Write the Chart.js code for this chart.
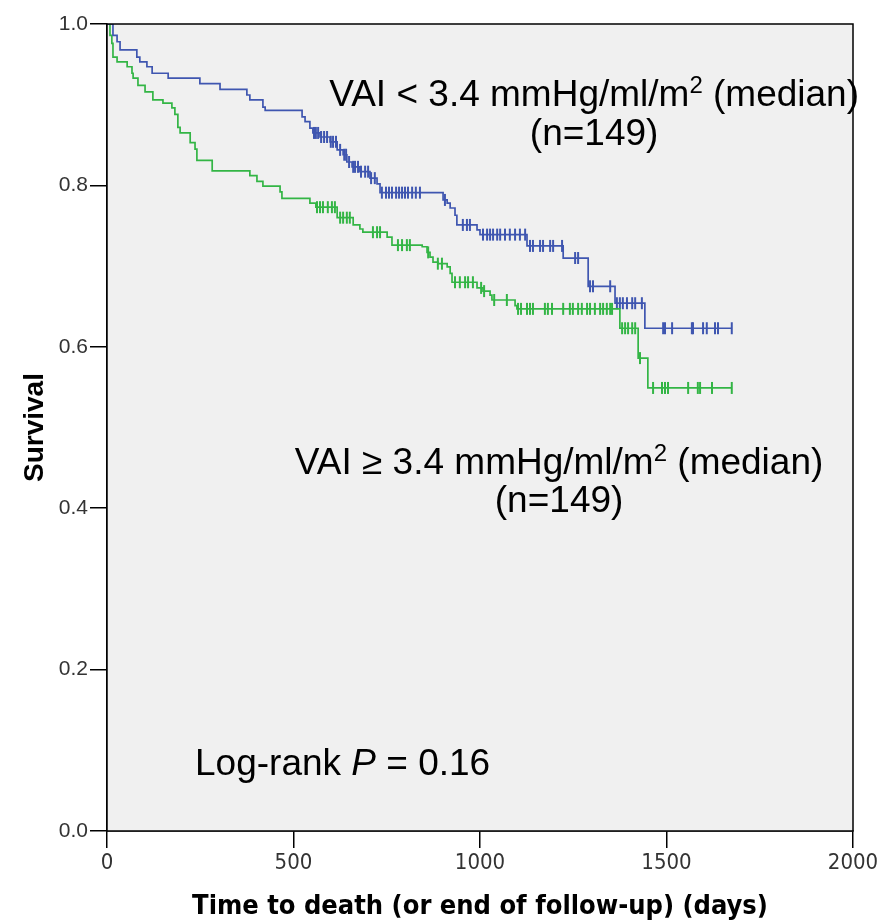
<!DOCTYPE html>
<html>
<head>
<meta charset="utf-8">
<script src="https://cdn.jsdelivr.net/npm/chart.js@4.4.1/dist/chart.umd.min.js"></script>
<style>
  html, body { margin: 0; padding: 0; background: #fff; }
  #wrap { width: 894px; height: 923px; position: relative; }
</style>
</head>
<body>
<div id="wrap"><canvas id="km"></canvas></div>
<script>
// Kaplan-Meier steps: event time (days) and survival after the event
const blueTimes = [0, 16, 27, 35, 80, 88, 107, 121, 164, 249, 303, 375, 383, 418, 424, 523, 531, 544, 552, 571, 598, 617, 633, 643, 657, 678, 705, 724, 732, 901, 912, 920, 933, 938, 992, 1000, 1126, 1223, 1290, 1362, 1442];
const blueSurv = [1.0, 0.986, 0.978, 0.968, 0.959, 0.953, 0.947, 0.939, 0.933, 0.926, 0.919, 0.912, 0.906, 0.897, 0.893, 0.885, 0.879, 0.871, 0.865, 0.860, 0.854, 0.844, 0.838, 0.829, 0.823, 0.817, 0.809, 0.802, 0.791, 0.782, 0.778, 0.772, 0.763, 0.751, 0.745, 0.739, 0.725, 0.710, 0.675, 0.654, 0.623];
const blueCensor = [555, 560, 566, 574, 582, 590, 600, 606, 614, 625, 636, 641, 649, 660, 665, 673, 681, 692, 700, 708, 718, 737, 748, 756, 764, 775, 783, 791, 799, 807, 818, 828, 839, 906, 954, 965, 973, 1008, 1019, 1027, 1035, 1046, 1054, 1067, 1080, 1094, 1107, 1121, 1134, 1142, 1161, 1169, 1188, 1196, 1220, 1255, 1263, 1295, 1303, 1349, 1367, 1375, 1383, 1394, 1408, 1416, 1434, 1491, 1496, 1515, 1568, 1571, 1598, 1608, 1630, 1638, 1675];

const greenTimes = [0, 8, 13, 16, 27, 54, 67, 70, 83, 102, 123, 150, 174, 182, 190, 196, 223, 236, 241, 282, 383, 402, 418, 464, 469, 544, 560, 617, 660, 678, 686, 751, 764, 845, 858, 866, 874, 887, 912, 920, 925, 992, 1008, 1027, 1032, 1094, 1099, 1375, 1424, 1450];
const greenSurv = [1.0, 0.986, 0.976, 0.959, 0.953, 0.947, 0.939, 0.933, 0.924, 0.916, 0.906, 0.902, 0.896, 0.888, 0.872, 0.865, 0.853, 0.845, 0.831, 0.818, 0.812, 0.805, 0.799, 0.792, 0.784, 0.778, 0.773, 0.760, 0.751, 0.746, 0.742, 0.736, 0.726, 0.724, 0.717, 0.711, 0.705, 0.703, 0.699, 0.691, 0.680, 0.673, 0.669, 0.664, 0.658, 0.651, 0.647, 0.623, 0.586, 0.549];
const greenCensor = [563, 571, 579, 592, 603, 611, 625, 633, 643, 651, 713, 724, 732, 780, 791, 804, 812, 861, 887, 898, 933, 946, 960, 968, 981, 1003, 1011, 1038, 1072, 1102, 1110, 1126, 1134, 1142, 1174, 1182, 1193, 1223, 1241, 1249, 1263, 1273, 1287, 1295, 1308, 1322, 1330, 1340, 1349, 1354, 1381, 1389, 1397, 1408, 1416, 1429, 1464, 1488, 1496, 1504, 1558, 1584, 1590, 1622, 1675];

const blueLabel = ['VAI < 3.4 mmHg/ml/m', '2', ' (median)', '(n=149)'];
const greenLabel = ['VAI \u2265 3.4 mmHg/ml/m', '2', ' (median)', '(n=149)'];
const pLabel = ['Log-rank ', 'P', ' = 0.16'];

const blue = '#3f56b0';
const green = '#33b545';

function survAt(times, surv, t) {
  let s = surv[0];
  for (let i = 0; i < times.length; i++) {
    if (times[i] <= t) s = surv[i];
  }
  return s;
}

function stepData(times, surv, end) {
  const pts = times.map((t, i) => ({ x: t, y: surv[i] }));
  pts.push({ x: end, y: surv[surv.length - 1] });
  return pts;
}

function censorData(times, surv, cens) {
  return cens.map(t => ({ x: t, y: survAt(times, surv, t) }));
}

const TXT = 37;
const SUP = 24;

// draws a line made of runs; align 'center' or 'left' at px x
function drawRuns(ctx, runs, x, baseline, align) {
  const fontOf = r => (r.italic ? 'italic ' : '') + (r.sup ? SUP : TXT) + 'px "Liberation Sans", Arial, sans-serif';
  let total = 0;
  runs.forEach(r => {
    ctx.font = fontOf(r);
    r.w = ctx.measureText(r.t).width;
    total += r.w;
  });
  let cx = align === 'center' ? x - total / 2 : x;
  runs.forEach(r => {
    ctx.font = fontOf(r);
    ctx.fillText(r.t, cx, baseline - (r.sup ? 13 : 0));
    cx += r.w;
  });
}

const plotDeco = {
  id: 'plotDeco',
  beforeDatasetsDraw(chart) {
    const { ctx, chartArea: a } = chart;
    ctx.save();
    ctx.fillStyle = '#f0f0f0';
    ctx.fillRect(a.left, a.top, a.right - a.left, a.bottom - a.top);
    ctx.restore();
  },
  afterDatasetsDraw(chart) {
    const { ctx, chartArea: a, scales } = chart;
    const xs = scales.x, ys = scales.y;
    ctx.save();
    ctx.strokeStyle = '#000';
    ctx.lineWidth = 1.5;
    ctx.strokeRect(a.left, a.top, a.right - a.left, a.bottom - a.top);

    ctx.fillStyle = '#000';
    ctx.textBaseline = 'alphabetic';
    ctx.textAlign = 'left';
    const bx = xs.getPixelForValue(1306);
    drawRuns(ctx, [{ t: blueLabel[0] }, { t: blueLabel[1], sup: true }, { t: blueLabel[2] }], bx, ys.getPixelForValue(0.898), 'center');
    drawRuns(ctx, [{ t: blueLabel[3] }], bx, ys.getPixelForValue(0.850), 'center');
    const gx = xs.getPixelForValue(1212);
    drawRuns(ctx, [{ t: greenLabel[0] }, { t: greenLabel[1], sup: true }, { t: greenLabel[2] }], gx, ys.getPixelForValue(0.442), 'center');
    drawRuns(ctx, [{ t: greenLabel[3] }], gx, ys.getPixelForValue(0.395), 'center');
    drawRuns(ctx, [{ t: pLabel[0] }, { t: pLabel[1], italic: true }, { t: pLabel[2] }], xs.getPixelForValue(236), ys.getPixelForValue(0.069), 'left');
    ctx.restore();
  },
};

const ctx = document.getElementById('km').getContext('2d');

new Chart(ctx, {
  type: 'line',
  data: {
    datasets: [
      {
        label: 'VAI < 3.4',
        data: stepData(blueTimes, blueSurv, 1675),
        stepped: true,
        borderColor: blue,
        borderWidth: 1.7,
        pointRadius: 0,
        fill: false,
      },
      {
        label: 'VAI >= 3.4',
        data: stepData(greenTimes, greenSurv, 1675),
        stepped: true,
        borderColor: green,
        borderWidth: 1.7,
        pointRadius: 0,
        fill: false,
      },
      {
        label: 'censored blue',
        data: censorData(blueTimes, blueSurv, blueCensor),
        showLine: false,
        pointStyle: 'line',
        rotation: 90,
        pointRadius: 6,
        borderColor: blue,
        borderWidth: 2,
      },
      {
        label: 'censored green',
        data: censorData(greenTimes, greenSurv, greenCensor),
        showLine: false,
        pointStyle: 'line',
        rotation: 90,
        pointRadius: 6,
        borderColor: green,
        borderWidth: 2,
      },
    ],
  },
  options: {
    responsive: true,
    maintainAspectRatio: false,
    animation: false,
    layout: { padding: { left: 0, top: 24, right: 41, bottom: 0 } },
    plugins: {
      legend: { display: false },
      tooltip: { enabled: false },
    },
    scales: {
      x: {
        type: 'linear',
        min: 0,
        max: 2000,
        afterFit: s => { s.height = 92; },
        border: { display: true, color: '#000', width: 1.5 },
        grid: { drawOnChartArea: false, tickLength: 17, color: '#000', lineWidth: 1.5 },
        ticks: {
          stepSize: 500,
          padding: 2,
          color: '#333',
          callback: v => String(v),
          font: { family: '"Liberation Sans Narrow", "DejaVu Sans Condensed", Arial, sans-serif', size: 22 },
        },
        title: {
          display: true,
          text: 'Time to death (or end of follow-up) (days)',
          color: '#000',
          padding: { top: 8, bottom: 0 },
          font: { family: '"Liberation Sans Narrow", "DejaVu Sans Condensed", Arial, sans-serif', size: 27, weight: 'bold' },
        },
      },
      y: {
        min: 0,
        max: 1,
        afterFit: s => { s.width = 107; },
        border: { display: true, color: '#000', width: 1.5 },
        grid: { drawOnChartArea: false, tickLength: 17, color: '#000', lineWidth: 1.5 },
        ticks: {
          stepSize: 0.2,
          padding: 2,
          color: '#333',
          callback: v => v.toFixed(1),
          font: { family: '"Liberation Sans", Arial, sans-serif', size: 21 },
        },
        title: {
          display: true,
          text: 'Survival',
          color: '#000',
          padding: { top: 18, bottom: 0 },
          font: { family: '"Liberation Sans", Arial, sans-serif', size: 28, weight: 'bold' },
        },
      },
    },
  },
  plugins: [plotDeco],
});
</script>
</body>
</html>
